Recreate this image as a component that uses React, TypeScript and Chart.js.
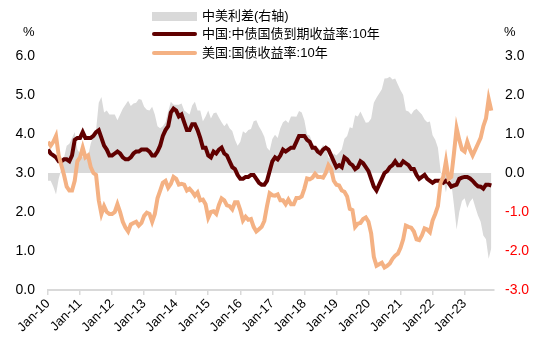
import React, { useEffect, useRef } from 'react';
import { Chart, registerables } from 'chart.js';

Chart.register(...registerables);

// x tick labels (one per January)
const tickLabels = [
  'Jan-10', 'Jan-11', 'Jan-12', 'Jan-13', 'Jan-14', 'Jan-15', 'Jan-16',
  'Jan-17', 'Jan-18', 'Jan-19', 'Jan-20', 'Jan-21', 'Jan-22', 'Jan-23',
];

const seriesNames = ['中美利差(右轴)', '中国:中债国债到期收益率:10年', '美国:国债收益率:10年'];

// Monthly, Jan-2010 .. Nov-2023 (%)
const cnYield = [
  3.6, 3.5, 3.45, 3.4, 3.3, 3.3, 3.35, 3.35, 3.3, 3.45, 3.85, 3.9,
  3.9, 4.05, 3.9, 3.9, 3.9, 3.95, 4.05, 4.1, 3.9, 3.7, 3.6, 3.45,
  3.45, 3.5, 3.55, 3.5, 3.4, 3.35, 3.35, 3.4, 3.5, 3.55, 3.55, 3.6,
  3.6, 3.6, 3.55, 3.45, 3.45, 3.55, 3.7, 3.95, 4.1, 4.2, 4.55, 4.65,
  4.6, 4.45, 4.5, 4.3, 4.1, 4.1, 4.25, 4.25, 4.1, 3.9, 3.65, 3.65,
  3.45, 3.4, 3.55, 3.5, 3.6, 3.65, 3.5, 3.45, 3.3, 3.15, 3.1, 2.95,
  2.85, 2.85, 2.9, 2.9, 2.95, 2.95, 2.85, 2.75, 2.7, 2.7, 2.8, 3.05,
  3.3, 3.4, 3.35, 3.45, 3.6, 3.55, 3.6, 3.65, 3.65, 3.8, 3.95, 3.95,
  3.95, 3.85, 3.8, 3.65, 3.65, 3.55, 3.5, 3.6, 3.65, 3.6, 3.45, 3.3,
  3.15, 3.2, 3.15, 3.4, 3.35, 3.25, 3.2, 3.1, 3.15, 3.3, 3.25, 3.15,
  3.05, 2.85, 2.65, 2.55, 2.7, 2.85, 3.0, 3.05, 3.15, 3.2, 3.3, 3.2,
  3.2, 3.3, 3.25, 3.2, 3.1, 3.1, 2.95, 2.85, 2.9, 2.95, 2.85, 2.8,
  2.75, 2.8, 2.8, 2.8, 2.75, 2.8, 2.75, 2.65, 2.68, 2.7, 2.85, 2.88,
  2.9, 2.9, 2.86, 2.8, 2.72, 2.66, 2.65, 2.6, 2.7, 2.7, 2.68,
];

const usYield = [
  3.8, 3.7, 3.8, 3.95, 3.45, 3.2, 2.95, 2.65, 2.55, 2.55, 2.8, 3.3,
  3.4, 3.65, 3.4, 3.45, 3.15, 3.0, 2.95, 2.3, 1.95, 2.15, 2.0, 1.95,
  1.95, 2.0, 2.2, 2.0, 1.75, 1.6, 1.5, 1.68, 1.72, 1.75, 1.65, 1.72,
  1.9, 1.98, 1.95, 1.75, 1.95, 2.35, 2.55, 2.75, 2.8, 2.62, 2.72, 2.9,
  2.85, 2.7, 2.72, 2.7, 2.55, 2.6, 2.52, 2.42, 2.5, 2.3, 2.32, 2.2,
  1.85, 2.0, 2.02, 1.95, 2.18, 2.35, 2.3, 2.17, 2.15, 2.07, 2.25, 2.25,
  2.05, 1.78, 1.88, 1.8, 1.82, 1.62, 1.5, 1.56, 1.62, 1.77, 2.15, 2.48,
  2.43, 2.42, 2.45, 2.3, 2.3, 2.2, 2.32, 2.2, 2.2, 2.36, 2.36, 2.4,
  2.6, 2.86, 2.84, 2.88, 2.98, 2.9, 2.9, 2.88, 3.0, 3.2, 3.1, 2.8,
  2.7, 2.68, 2.55, 2.52, 2.4, 2.08, 2.05, 1.62, 1.7, 1.72, 1.82, 1.86,
  1.75, 1.45, 0.85, 0.62, 0.66, 0.7, 0.58, 0.62, 0.68, 0.8, 0.88, 0.93,
  1.08, 1.3, 1.65, 1.62, 1.6, 1.5, 1.3, 1.28, 1.4, 1.58, 1.55, 1.48,
  1.78, 1.95, 2.15, 2.75, 2.9, 3.3, 2.85, 2.9, 3.5, 4.15, 3.85, 3.6,
  3.55, 3.8, 3.6, 3.45, 3.6, 3.75, 3.9, 4.2, 4.4, 4.9, 4.6,
];

const FONT = '"Liberation Sans", Arial, "Noto Sans CJK SC", sans-serif';
const COLOR_SPREAD = '#d9d9d9';
const COLOR_CN = '#600000';
const COLOR_US = '#f4b183';

export default function App() {
  const ref = useRef<HTMLCanvasElement | null>(null);

  useEffect(() => {
    if (!ref.current) return;
    const cn = cnYield.map((v, i) => ({ x: i, y: v }));
    const us = usYield.map((v, i) => ({ x: i, y: v }));
    const spread = cnYield.map((v, i) => ({ x: i, y: +(v - usYield[i]).toFixed(3) }));

    const chart = new Chart(ref.current, {
      type: 'line',
      data: {
        datasets: [
          {
            label: seriesNames[2],
            data: us,
            yAxisID: 'y',
            borderColor: COLOR_US,
            borderWidth: 4,
            pointRadius: 0,
            tension: 0,
            fill: false,
            order: 0,
          },
          {
            label: seriesNames[1],
            data: cn,
            yAxisID: 'y',
            borderColor: COLOR_CN,
            borderWidth: 4,
            pointRadius: 0,
            tension: 0,
            fill: false,
            order: 1,
          },
          {
            label: seriesNames[0],
            data: spread,
            yAxisID: 'y1',
            borderColor: COLOR_SPREAD,
            backgroundColor: COLOR_SPREAD,
            borderWidth: 0,
            pointRadius: 0,
            tension: 0,
            fill: 'origin',
            order: 2,
          },
        ],
      },
      options: {
        responsive: false,
        animation: false,
        devicePixelRatio: 1,
        layout: { padding: { top: 56, left: 0, right: 0, bottom: 0 } },
        plugins: { legend: { display: false }, tooltip: { enabled: false } },
        scales: {
          x: {
            type: 'linear',
            min: 0,
            max: 167,
            afterBuildTicks: (scale: any) => {
              scale.ticks = tickLabels.map((_, i) => ({ value: i * 12 }));
            },
            afterFit: (scale: any) => {
              scale.height = 50;
            },
            grid: {
              display: true,
              drawOnChartArea: false,
              drawTicks: true,
              tickLength: 5,
              color: '#d9d9d9',
              lineWidth: 1.5,
            },
            border: { display: true, color: '#d9d9d9', width: 2 },
            ticks: {
              autoSkip: false,
              maxRotation: 45,
              minRotation: 45,
              padding: 1,
              color: '#000',
              font: { family: FONT, size: 13 },
              callback: (value: any) => {
                const idx = Math.round(Number(value) / 12);
                return tickLabels[idx] ?? '';
              },
            },
          },
          y: {
            position: 'left',
            min: 0,
            max: 6,
            afterFit: (scale: any) => {
              scale.width = 48;
            },
            grid: { display: false, drawTicks: false },
            border: { display: false },
            ticks: {
              stepSize: 1,
              padding: 13,
              color: '#000',
              font: { family: FONT, size: 14 },
              callback: (v: any) => Number(v).toFixed(1),
            },
          },
          y1: {
            position: 'right',
            min: -3,
            max: 3,
            afterFit: (scale: any) => {
              scale.width = 53;
            },
            grid: { display: false, drawTicks: false },
            border: { display: false },
            ticks: {
              stepSize: 1,
              padding: 11,
              color: (ctx: any) => (ctx.tick && ctx.tick.value < 0 ? '#ff0000' : '#000'),
              font: { family: FONT, size: 14 },
              callback: (v: any) => Number(v).toFixed(1),
            },
          },
        },
      },
    });
    return () => chart.destroy();
  }, []);

  const textStyle: React.CSSProperties = {
    position: 'absolute',
    left: 202,
    fontFamily: FONT,
    fontSize: 13,
    lineHeight: '16px',
    color: '#000',
    whiteSpace: 'nowrap',
  };

  return (
    <div style={{ position: 'fixed', left: 0, top: 0, width: 547, height: 340, background: '#fff', overflow: 'hidden' }}>
      <canvas ref={ref} width={547} height={340} style={{ position: 'absolute', left: 0, top: 0, width: 547, height: 340 }} />
      <div style={{ position: 'absolute', left: 152, top: 12, width: 45, height: 9, background: COLOR_SPREAD }} />
      <div style={{ ...textStyle, top: 8 }}>{seriesNames[0]}</div>
      <div style={{ position: 'absolute', left: 152, top: 32, width: 45, height: 4, borderRadius: 2, background: COLOR_CN }} />
      <div style={{ ...textStyle, top: 26 }}>{seriesNames[1]}</div>
      <div style={{ position: 'absolute', left: 152, top: 51, width: 45, height: 4, borderRadius: 2, background: COLOR_US }} />
      <div style={{ ...textStyle, top: 45 }}>{seriesNames[2]}</div>
      <div style={{ position: 'absolute', left: 23, top: 24, fontFamily: FONT, fontSize: 13, lineHeight: '16px' }}>%</div>
      <div style={{ position: 'absolute', left: 504, top: 24, fontFamily: FONT, fontSize: 13, lineHeight: '16px' }}>%</div>
    </div>
  );
}
